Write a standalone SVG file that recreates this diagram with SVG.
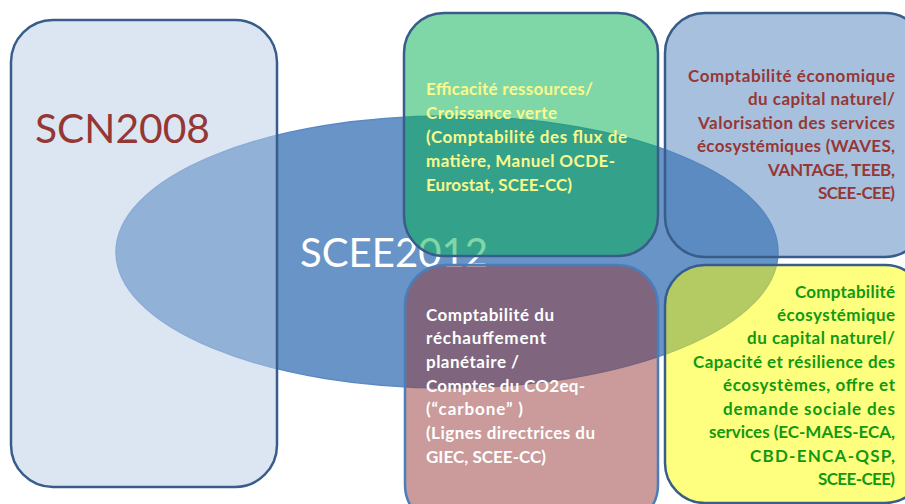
<svg xmlns="http://www.w3.org/2000/svg" width="905" height="504" viewBox="0 0 905 504">
<style>
.box{stroke:#385d8a;stroke-width:2.5;}
.t{font-family:Lato,"Liberation Sans",sans-serif;font-weight:bold;font-size:17px;}
.big{font-family:Lato,"Liberation Sans",sans-serif;font-size:41px;}
.r{text-anchor:end;}
.g{fill:#fafa8c;}
.b{fill:#953735;}
.w{fill:#ffffff;}
.y{fill:#129912;}
</style>
<rect width="905" height="504" fill="#ffffff"/>
<g id="scee2012-ellipse">
<ellipse cx="447" cy="252" rx="331" ry="136" fill="#4f81bd" fill-opacity="0.85" stroke="#5b8bc6" stroke-width="1.5"/>
</g>
<g id="scn2008">
<rect x="11" y="20" width="266" height="467" rx="42" fill="#b9cde5" fill-opacity="0.5" class="box"/>
<text x="35" y="143" class="big b" textLength="175" lengthAdjust="spacingAndGlyphs">SCN2008</text>
</g>
<g id="scee2012-label">
<text x="300" y="267" class="big w" textLength="188" lengthAdjust="spacingAndGlyphs">SCEE2012</text>
</g>
<g id="efficacite">
<rect x="404" y="13" width="254" height="243" rx="40" fill="#00b050" fill-opacity="0.5" class="box"/>
<text class="t g" x="426" y="95" textLength="167" lengthAdjust="spacing">Efficacité ressources/</text>
<text class="t g" x="426" y="119" textLength="131" lengthAdjust="spacing">Croissance verte</text>
<text class="t g" x="426" y="143" textLength="201" lengthAdjust="spacing">(Comptabilité des flux de</text>
<text class="t g" x="426" y="167" textLength="189" lengthAdjust="spacing">matière, Manuel OCDE-</text>
<text class="t g" x="426" y="191" textLength="146" lengthAdjust="spacing">Eurostat, SCEE-CC)</text>
</g>
<g id="economique">
<rect x="665" y="13" width="260" height="244" rx="40" fill="#4f81bd" fill-opacity="0.5" class="box"/>
<text class="t r b" x="895" y="82" textLength="207" lengthAdjust="spacing">Comptabilité économique</text>
<text class="t r b" x="895" y="105" textLength="147" lengthAdjust="spacing">du capital naturel/</text>
<text class="t r b" x="895" y="129" textLength="197" lengthAdjust="spacing">Valorisation des services</text>
<text class="t r b" x="895" y="152" textLength="198" lengthAdjust="spacing">écosystémiques (WAVES,</text>
<text class="t r b" x="895" y="176" textLength="127" lengthAdjust="spacing">VANTAGE, TEEB,</text>
<text class="t r b" x="895" y="199" textLength="77" lengthAdjust="spacing">SCEE-CEE)</text>
</g>
<g id="rechauffement">
<rect x="405" y="265" width="253" height="260" rx="40" fill="#953735" fill-opacity="0.5" stroke="#4a7ebb" stroke-width="2.5"/>
<text class="t w" x="426" y="321" textLength="128" lengthAdjust="spacing">Comptabilité du</text>
<text class="t w" x="426" y="344" textLength="120" lengthAdjust="spacing">réchauffement</text>
<text class="t w" x="426" y="368" textLength="93" lengthAdjust="spacing">planétaire /</text>
<text class="t w" x="426" y="392" textLength="159" lengthAdjust="spacing">Comptes du CO2eq-</text>
<text class="t w" x="426" y="415" textLength="97" lengthAdjust="spacing">(“carbone” )</text>
<text class="t w" x="426" y="439" textLength="169" lengthAdjust="spacing">(Lignes directrices du</text>
<text class="t w" x="426" y="463" textLength="120" lengthAdjust="spacing">GIEC,  SCEE-CC)</text>
</g>
<g id="ecosystemique">
<rect x="665" y="265" width="260" height="238" rx="40" fill="#ffff00" fill-opacity="0.5" class="box"/>
<text class="t r y" x="895" y="298" textLength="100" lengthAdjust="spacing">Comptabilité</text>
<text class="t r y" x="895" y="321" textLength="118" lengthAdjust="spacing">écosystémique</text>
<text class="t r y" x="895" y="344" textLength="148" lengthAdjust="spacing">du capital naturel/</text>
<text class="t r y" x="895" y="368" textLength="202" lengthAdjust="spacing">Capacité et résilience des</text>
<text class="t r y" x="895" y="391" textLength="172" lengthAdjust="spacing">écosystèmes, offre et</text>
<text class="t r y" x="895" y="415" textLength="172" lengthAdjust="spacing">demande  sociale des</text>
<text class="t r y" x="895" y="438" textLength="186" lengthAdjust="spacing">services (EC-MAES-ECA,</text>
<text class="t r y" x="895" y="462" textLength="145" lengthAdjust="spacing">CBD-ENCA-QSP,</text>
<text class="t r y" x="895" y="485" textLength="77" lengthAdjust="spacing">SCEE-CEE)</text>
</g>
</svg>
